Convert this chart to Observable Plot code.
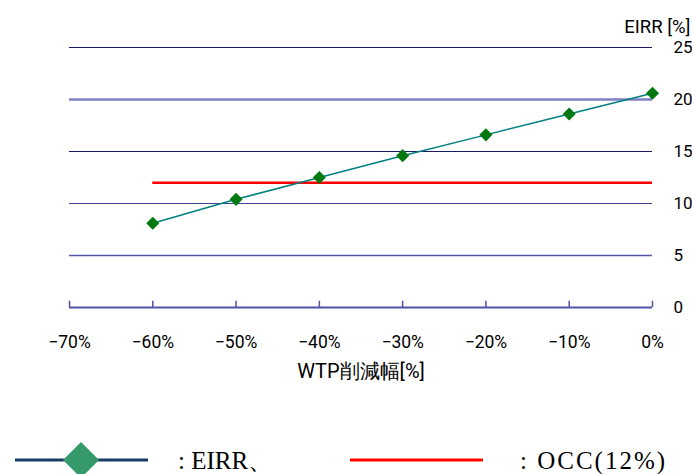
<!DOCTYPE html>
<html>
<head>
<meta charset="utf-8">
<script src="https://cdn.jsdelivr.net/npm/d3@7"></script>
<script src="https://cdn.jsdelivr.net/npm/@observablehq/plot@0.6"></script>
<style>
  html, body { margin: 0; padding: 0; background: #fff; }
  #wrap { width: 692px; height: 474px; overflow: hidden; position: relative; }
  #legend { position: relative; width: 692px; height: 54px; }
  #legend text { font-family: "Liberation Serif", "Times New Roman", serif; font-size: 25px; fill: #000; }
</style>
</head>
<body>
<div id="wrap">
  <div id="chart"></div>
  <div id="legend"></div>
</div>
<script>
// WTP reduction (%) and the resulting EIRR (%)
const xTicks = [-70, -60, -50, -40, -30, -20, -10, 0];
const yTicks = [0, 5, 10, 15, 20, 25];
const wtpCut = [-60, -50, -40, -30, -20, -10, 0];
const eirr = [8.1, 10.4, 12.5, 14.6, 16.6, 18.6, 20.6];
const occ = 12; // opportunity cost of capital (%)
const occRange = [-60, 0];

const points = wtpCut.map((x, i) => ({x, y: eirr[i]}));
const pct = d => (d < 0 ? "\u2212" : "") + Math.abs(d) + "%";

const chart = Plot.plot({
  width: 692,
  height: 420,
  marginLeft: 69,
  marginRight: 40,
  marginTop: 47,
  marginBottom: 113,
  style: {fontFamily: "Roboto, 'Liberation Sans', sans-serif", color: "#000", background: "#fff", overflow: "visible"},
  x: {domain: [-70, 0]},
  y: {domain: [0, 25]},
  marks: [
    // horizontal grid lines
    Plot.ruleY([25], {stroke: "#1a1a6a", strokeWidth: 1}),
    Plot.ruleY([20], {stroke: "#8080c4", strokeWidth: 2.5}),
    Plot.ruleY([15], {stroke: "#1a1a6a", strokeWidth: 1}),
    Plot.ruleY([10], {stroke: "#404094", strokeWidth: 1.2}),
    Plot.ruleY([5], {stroke: "#5555a8", strokeWidth: 1.6}),
    // x baseline with upward ticks
    Plot.ruleY([0], {stroke: "#5050a8", strokeWidth: 2}),
    Plot.ruleX(xTicks, {y1: 0, y2: 0.6, stroke: "#5050a8", strokeWidth: 1.5}),
    // OCC threshold
    Plot.ruleY([occ], {x1: occRange[0], x2: occRange[1], stroke: "#ff0000", strokeWidth: 2.5}),
    // EIRR series
    Plot.line(points, {x: "x", y: "y", stroke: "#008080", strokeWidth: 1.5}),
    Plot.dot(points, {x: "x", y: "y", symbol: "diamond2", r: 5.9, fill: "#007a10", stroke: "none"}),
    // axes
    Plot.axisX({ticks: xTicks, tickFormat: pct, tickSize: 0, tickPadding: 28, fontSize: 17.5, label: null}),
    Plot.axisY({anchor: "right", ticks: yTicks, tickSize: 0, tickPadding: 21, fontSize: 17, label: null}),
    Plot.text(["EIRR [%]"], {frameAnchor: "top-right", dx: 38, dy: -28, textAnchor: "end", fontSize: 18.5}),
    Plot.text(["WTP削減幅[%]"], {frameAnchor: "bottom", dy: 70, fontSize: 20})
  ]
});
document.getElementById("chart").appendChild(chart);

// legend below the chart
const ns = "http://www.w3.org/2000/svg";
const leg = d3.select("#legend").append("svg")
  .attr("xmlns", ns).attr("width", 692).attr("height", 54);
const ly = 40;
leg.append("line").attr("x1", 15).attr("x2", 148).attr("y1", ly).attr("y2", ly)
  .attr("stroke", "#1a3a6a").attr("stroke-width", 3);
leg.append("path").attr("d", `M81,${ly - 18}L99,${ly}L81,${ly + 18}L63,${ly}Z`).attr("fill", "#35996a");
leg.append("text").attr("x", 178).attr("y", ly + 9).text(": EIRR、");
leg.append("line").attr("x1", 350).attr("x2", 483).attr("y1", ly).attr("y2", ly)
  .attr("stroke", "#ff0000").attr("stroke-width", 3);
leg.append("text").attr("x", 520).attr("y", ly + 9).attr("letter-spacing", 2).text(": OCC(12%)");
</script>
</body>
</html>
